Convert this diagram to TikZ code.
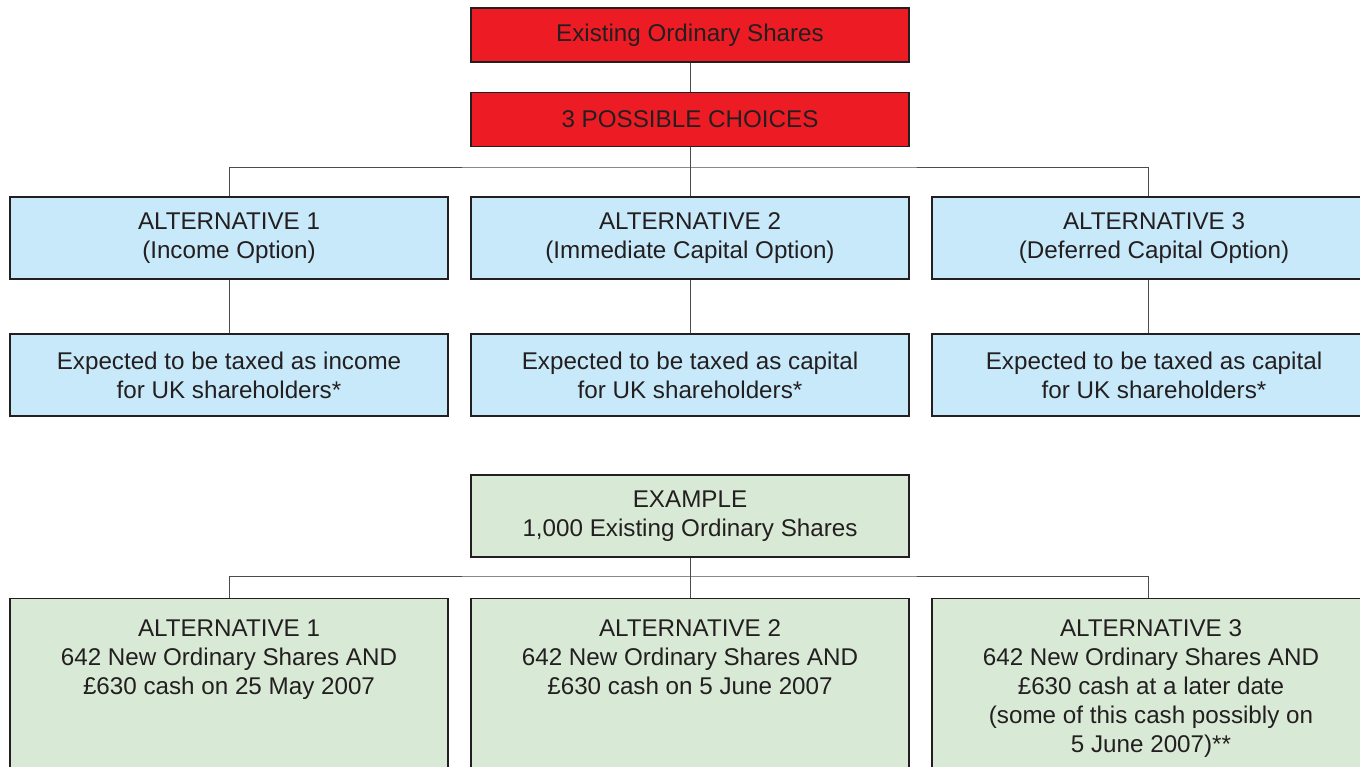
\documentclass[tikz,border=0pt]{standalone}
\usepackage{fontspec}
\setmainfont{Liberation Sans}
\usetikzlibrary{positioning}
\definecolor{choicered}{HTML}{ED1C24}
\definecolor{optblue}{HTML}{C7E9F9}
\definecolor{examplegreen}{HTML}{D8EAD6}
\definecolor{inkgrey}{HTML}{231F20}
\tikzset{
    x=0.5pt, y=-0.5pt, % one unit is one pixel of the page, y runs down
    every node/.style={font=\fontsize{12.1}{14.5}\selectfont, align=center, text=inkgrey},
    box/.style={draw=inkgrey, line width=0.55pt, minimum width=219pt, inner sep=0pt}, % common look of all boxes
    redbox/.style={box, fill=choicered, minimum height=27pt},
    bluebox/.style={box, fill=optblue, minimum height=41pt},
    greenbox/.style={box, fill=examplegreen, minimum height=41pt},
    link/.style={draw=black!70, line width=0.5pt}, % the plain connecting lines
}

\begin{document}
\begin{tikzpicture}
        \useasboundingbox (0,0) rectangle (1360,766);
        \clip (0,0) rectangle (1360,766);

        % choices
        \node[redbox] (shares) at (690,35) {Existing Ordinary Shares};
        \node[redbox] (choices) at (690,119.5) {3 POSSIBLE CHOICES};
        \coordinate (split) at (690,167);

        \node[bluebox] (alt1) at (229,238) {ALTERNATIVE 1\\(Income Option)};
        \node[bluebox] (alt2) at (690,238) {ALTERNATIVE 2\\(Immediate Capital Option)};
        \node[bluebox, minimum width=216pt] (alt3) at (1148,238) {\hspace{6pt}ALTERNATIVE 3\\\hspace{6pt}(Deferred Capital Option)};

        \node[bluebox] (tax1) at (229,375) {Expected to be taxed as income\\for UK shareholders*};
        \node[bluebox] (tax2) at (690,375) {Expected to be taxed as capital\\for UK shareholders*};
        \node[bluebox, minimum width=216pt] (tax3) at (1148,375) {\hspace{6pt}Expected to be taxed as capital\\\hspace{6pt}for UK shareholders*};

        % example
        \node[greenbox] (example) at (690,516) {EXAMPLE\\1,000 Existing Ordinary Shares};
        \coordinate (esplit) at (690,576);

        \node[greenbox, anchor=north, minimum height=120pt] (ex1) at (229,598) {};
        \node[greenbox, anchor=north, minimum height=120pt] (ex2) at (690,598) {};
        \node[greenbox, anchor=north, minimum height=120pt, minimum width=216pt] (ex3) at (1148,598) {};

        \node[anchor=north, inner sep=0pt] (ex1-text) at (229,619) {ALTERNATIVE 1\\642 New Ordinary Shares AND\\\pounds630 cash on 25 May 2007};
        \node[anchor=north, inner sep=0pt] (ex2-text) at (690,619) {ALTERNATIVE 2\\642 New Ordinary Shares AND\\\pounds630 cash on 5 June 2007};
        \node[anchor=north, inner sep=0pt] (ex3-text) at (1151,619) {ALTERNATIVE 3\\642 New Ordinary Shares AND\\\pounds630 cash at a later date\\(some of this cash possibly on\\5 June 2007)**};

        \draw[link] (shares) -- (choices);
        \draw[link] (choices) -- (alt2);
        \draw[link] (alt1) |- (split) -| (alt3);
        \draw[link] (alt1) -- (tax1);
        \draw[link] (alt2) -- (tax2);
        \draw[link] (alt3) -- (tax3);
        \draw[link] (example) -- (ex2);
        \draw[link] (ex1) |- (esplit) -| (ex3);

    \end{tikzpicture}
\end{document}
